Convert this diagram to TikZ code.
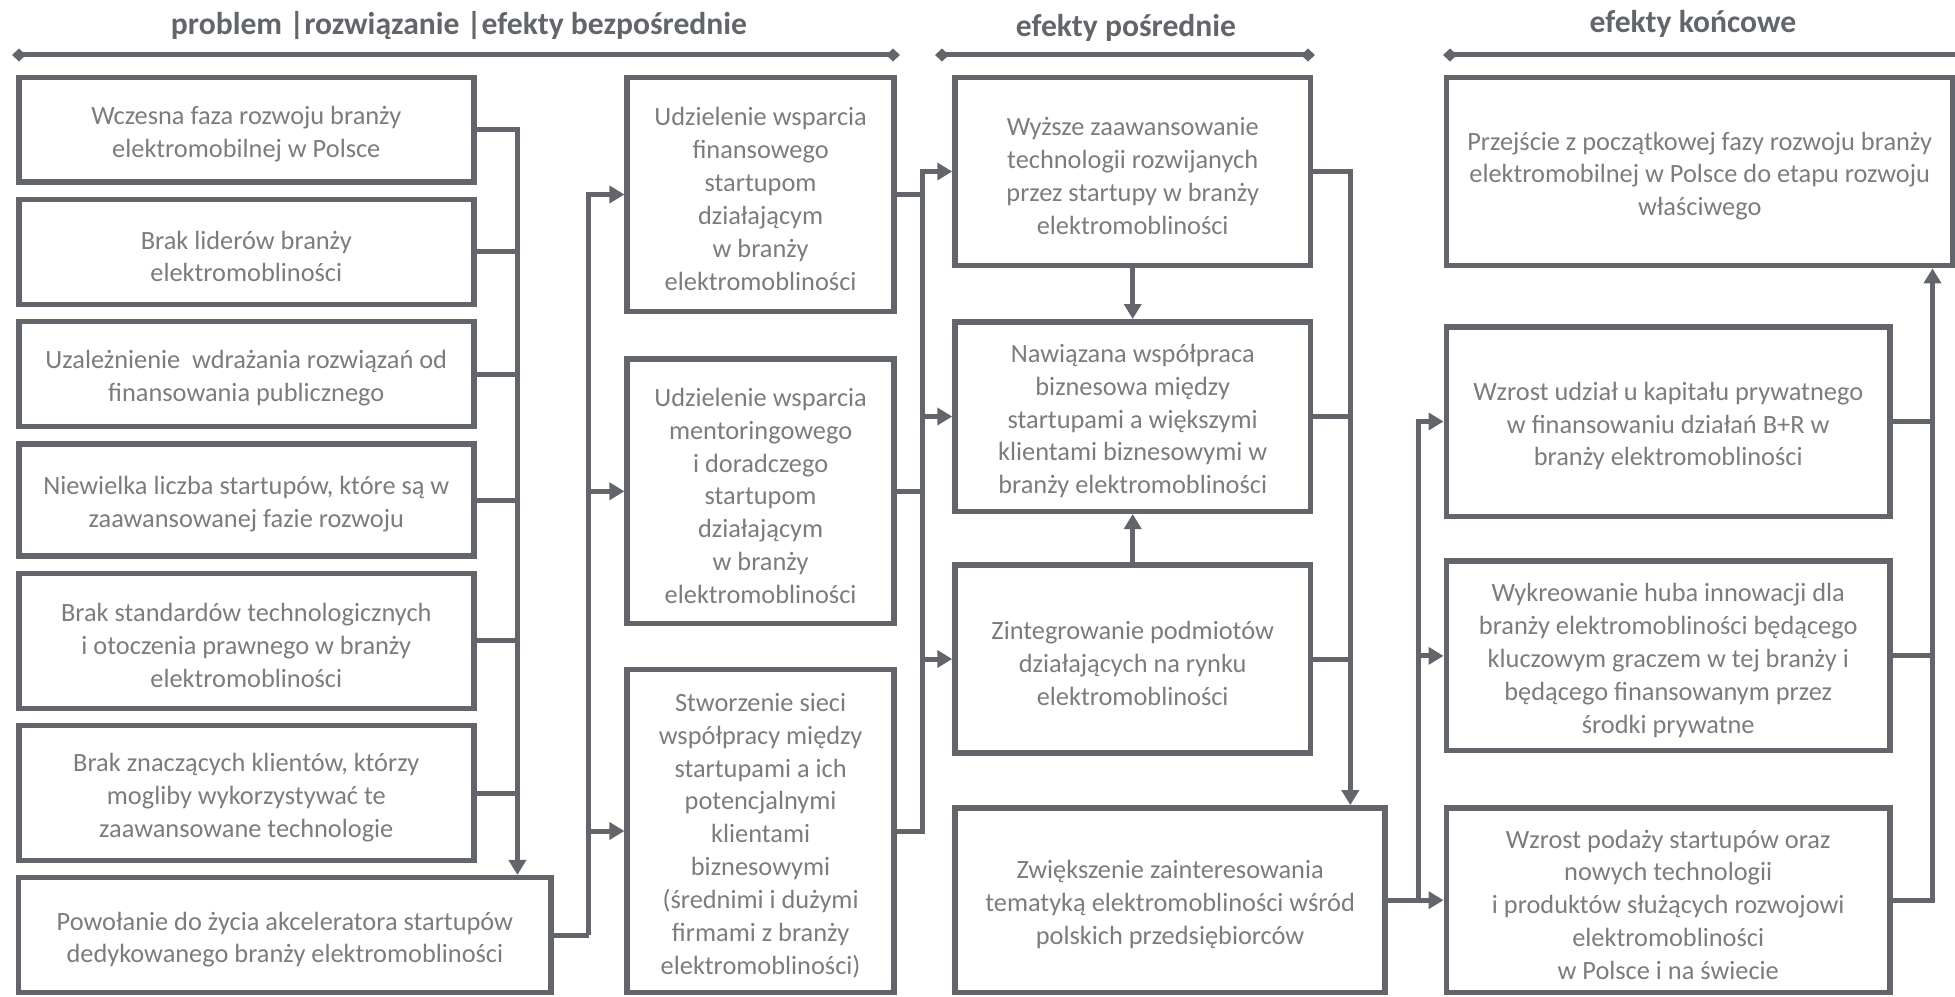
\documentclass[tikz,border=0pt]{standalone}
\usepackage{fontspec}
\setmainfont{Carlito}
\usetikzlibrary{arrows.meta}
\newdimen\pxu \pxu=0.02cm
\definecolor{linec}{RGB}{98,102,106}
\definecolor{txtc}{RGB}{122,124,126}
% a framed box and its centred caption, the caption set slightly low
\newcommand\boxnode[6]{%
  \node[box, minimum width=#4\pxu, minimum height=#5\pxu] (#1) at (#2,#3) {};
  \node[boxtext] (#1-t) at ([yshift=-0.09cm]#1.center) {#6};}
\begin{document}
\begin{tikzpicture}[x=0.02cm,y=-0.02cm,
  box/.style={draw=linec, line width=5.5\pxu, fill=white, inner sep=0pt},
  boxtext/.style={text=txtc, align=center, inner sep=0pt,
    font=\fontsize{15}{18.7}\selectfont},
  conn/.style={draw=linec, line width=5\pxu},
  arr/.style={conn, -{Triangle[length=0.3cm,width=0.34cm]}},
  hdr/.style={font=\fontsize{18}{22}\selectfont\bfseries, text=linec},
  hline/.style={draw=linec, line width=5\pxu,
    {Diamond[length=0.28cm,width=0.26cm]}-{Diamond[length=0.28cm,width=0.26cm]}},
  hlineopen/.style={draw=linec, line width=5\pxu, {Diamond[length=0.28cm,width=0.26cm]}-}]

\useasboundingbox (0,0) rectangle (1955,997);
\clip (0,0) rectangle (1955,997);

% column headers
\node[hdr] (h1) at (459,26) {problem |rozwiązanie |efekty bezpośrednie};
\node[hdr] (h2) at (1126,28) {efekty pośrednie};
\node[hdr] (h3) at (1693,24) {efekty końcowe};
\coordinate (h1l) at (12,55);   \coordinate (h1r) at (900,55);
\coordinate (h2l) at (935,55);  \coordinate (h2r) at (1315,55);
\coordinate (h3l) at (1443,55); \coordinate (h3r) at (1975,55);
\draw[hline] (h1l) -- (h1r);
\draw[hline] (h2l) -- (h2r);
\draw[hlineopen] (h3l) -- (h3r);

% problems
\boxnode{B1}{246.3}{129.7}{455.1}{104.7}
  {Wczesna faza rozwoju branży\\elektromobilnej w Polsce}
\boxnode{B2}{246.3}{251.9}{455.1}{104.7}
  {Brak liderów branży\\elektromobliności}
\boxnode{B3}{246.3}{374.0}{455.1}{104.7}
  {Uzależnienie~ wdrażania rozwiązań od\\finansowania publicznego}
\boxnode{B4}{246.3}{500.0}{455.1}{112.2}
  {Niewielka liczba startupów, które są w\\zaawansowanej fazie rozwoju}
\boxnode{B5}{246.3}{640.9}{455.1}{134.7}
  {Brak standardów technologicznych\\i otoczenia prawnego w branży\\elektromobliności}
\boxnode{B6}{246.3}{793.0}{455.1}{134.7}
  {Brak znaczących klientów, którzy\\mogliby wykorzystywać te\\zaawansowane technologie}
\boxnode{B7}{284.9}{935.1}{532.4}{114.8}
  {Powołanie do życia akceleratora startupów\\dedykowanego branży elektromobliności}

% solutions
\boxnode{M1}{760.6}{194.5}{266.9}{234.4}
  {Udzielenie wsparcia\\finansowego\\startupom\\działającym\\w branży\\elektromobliności}
\boxnode{M2}{760.6}{491.3}{266.9}{264.3}
  {Udzielenie wsparcia\\mentoringowego\\i doradczego\\startupom\\działającym\\w branży\\elektromobliności}
\boxnode{M3}{760.6}{831.0}{266.9}{323.0}
  {Stworzenie sieci\\współpracy między\\startupami a ich\\potencjalnymi\\klientami\\biznesowymi\\(średnimi i dużymi\\firmami z branży\\elektromobliności)}

% intermediate effects
\boxnode{E1}{1132.7}{171.5}{355.4}{188.3}
  {Wyższe zaawansowanie\\technologii rozwijanych\\przez startupy w branży\\elektromobliności}
\boxnode{E2}{1132.7}{416.5}{355.4}{189.5}
  {Nawiązana współpraca\\biznesowa między\\startupami a większymi\\klientami biznesowymi w\\branży elektromobliności}
\boxnode{E3}{1132.7}{659.0}{355.4}{188.3}
  {Zintegrowanie podmiotów\\działających na rynku\\elektromobliności}
\boxnode{E4}{1170.1}{900.2}{430.2}{184.6}
  {Zwiększenie zainteresowania\\tematyką elektromobliności wśród\\polskich przedsiębiorców}

% final effects
\boxnode{F1}{1699.7}{171.5}{506.7}{188.3}
  {Przejście z początkowej fazy rozwoju branży\\elektromobilnej w Polsce do etapu rozwoju\\właściwego}
\boxnode{F2}{1668.2}{421.5}{443.8}{189.5}
  {Wzrost udział u kapitału prywatnego\\w finansowaniu działań B+R w\\branży elektromobliności}
\boxnode{F3}{1668.2}{655.9}{443.8}{189.5}
  {Wykreowanie huba innowacji dla\\branży elektromobliności będącego\\kluczowym graczem w tej branży i\\będącego finansowanym przez\\środki prywatne}
\boxnode{F4}{1668.2}{900.2}{443.8}{184.6}
  {Wzrost podaży startupów oraz\\nowych technologii\\i produktów służących rozwojowi\\elektromobliności\\w Polsce i na świecie}

% vertical collector lines
\coordinate (busL) at (517.4,0);
\coordinate (busM) at (588.5,0);
\coordinate (busR) at (922.6,0);
\coordinate (busE) at (1350.3,0);
\coordinate (busF) at (1418.9,0);
\coordinate (busZ) at (1932.5,0);

% problems -> accelerator
\draw[arr] (B1.east) -| (B7.north -| busL);
\foreach \b in {B2,B3,B4,B5,B6} \draw[conn] (\b.east) -- (\b.east -| busL);

% accelerator -> solutions
\draw[conn] (B7.east) -- (B7.east -| busM);
\draw[arr] (B7.east -| busM) |- (M1.west);
\draw[arr] (B7.east -| busM) |- (M2.west);
\draw[arr] (B7.east -| busM) |- (M3.west);

% solutions -> intermediate effects
\draw[arr] (M3.east) -| (E1.west -| busR) -- (E1.west);
\draw[conn] (M1.east) -- (M1.east -| busR);
\draw[conn] (M2.east) -- (M2.east -| busR);
\draw[arr] (E2.west -| busR) -- (E2.west);
\draw[arr] (E3.west -| busR) -- (E3.west);

% links inside the intermediate column
\draw[arr] (E1.south) -- (E2.north);
\draw[arr] (E3.north) -- (E2.south);
\draw[arr] (E1.east) -| (E4.north -| busE);
\draw[conn] (E2.east) -- (E2.east -| busE);
\draw[conn] (E3.east) -- (E3.east -| busE);

% intermediate -> final effects
\draw[arr] (E4.east) -- (F4.west);
\draw[arr] (E4.east -| busF) |- (F2.west);
\draw[arr] (E4.east -| busF) |- (F3.west);

% final effects -> overall goal
\draw[arr] (F4.east) -| (F1.south -| busZ);
\draw[conn] (F2.east) -- (F2.east -| busZ);
\draw[conn] (F3.east) -- (F3.east -| busZ);
\end{tikzpicture}
\end{document}
